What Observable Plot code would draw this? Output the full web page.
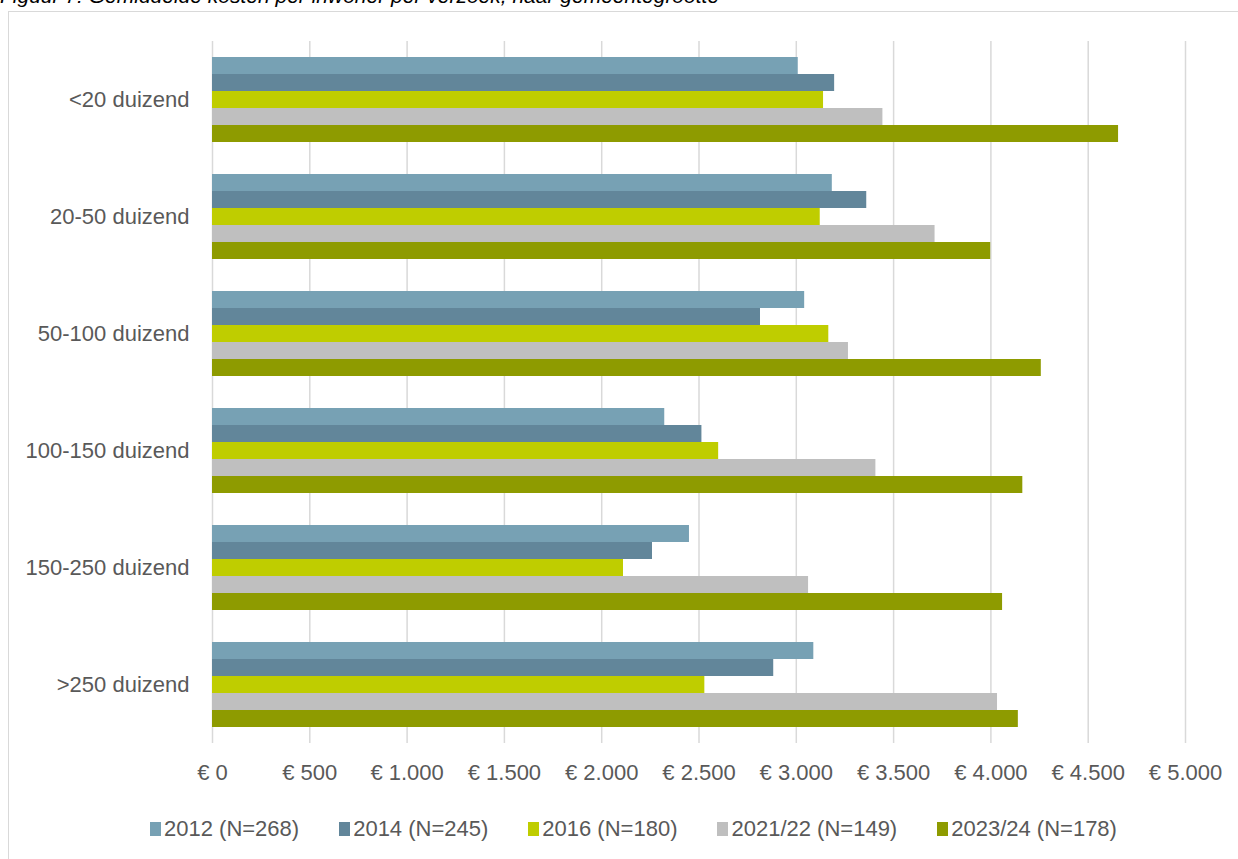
<!DOCTYPE html>
<html>
<head>
<meta charset="utf-8">
<script src="https://cdn.jsdelivr.net/npm/d3@7"></script>
<script src="https://cdn.jsdelivr.net/npm/@observablehq/plot@0.6"></script>
<style>
  html, body { margin: 0; padding: 0; background: #fff; overflow: hidden; }
  #page { position: relative; width: 1238px; height: 859px; overflow: hidden; font-family: "Liberation Sans", Arial, sans-serif; }
  #title { position: absolute; left: 0px; top: -15px; font-size: 21px; line-height: 21px; font-style: italic; color: #000; white-space: nowrap; }
  #frame { position: absolute; left: 8px; top: 11px; width: 1300px; height: 900px; border-left: 1px solid #d9d9d9; border-top: 1px solid #d9d9d9; }
  #chart { position: absolute; left: 0; top: 0; }
  #legend { position: absolute; left: 150px; top: 816px; display: flex; gap: 40px; font-size: 22px; color: #595959; white-space: nowrap; }
  .item { display: flex; align-items: center; }
  .sw { width: 11px; height: 14px; margin-right: 3px; }
</style>
</head>
<body>
<div id="page">
  <div id="title">Figuur 7: Gemiddelde kosten per inwoner per verzoek, naar gemeentegrootte</div>
  <div id="frame"></div>
  <div id="chart"></div>
  <div id="legend"></div>
</div>
<script>
const categories = ["<20 duizend", "20-50 duizend", "50-100 duizend", "100-150 duizend", "150-250 duizend", ">250 duizend"];
const seriesNames = ["2012 (N=268)", "2014 (N=245)", "2016 (N=180)", "2021/22 (N=149)", "2023/24 (N=178)"];
const v2012 = [3010, 3185, 3043, 2324, 2451, 3090];
const v2014 = [3197, 3362, 2816, 2515, 2261, 2884];
const v2016 = [3140, 3123, 3167, 2601, 2112, 2530];
const v2122 = [3445, 3713, 3268, 3409, 3063, 4034];
const v2324 = [4656, 3999, 4259, 4164, 4060, 4141];
const seriesColors = ["#77A1B4", "#62869A", "#BFCD00", "#BFBFBF", "#8E9B00"];
const xTicks = [0, 500, 1000, 1500, 2000, 2500, 3000, 3500, 4000, 4500, 5000];

const valueSets = [v2012, v2014, v2016, v2122, v2324];
const data = [];
categories.forEach((c, i) => {
  seriesNames.forEach((s, j) => {
    data.push({cat: c, series: s, value: valueSets[j][i]});
  });
});

const fmt = d => "€ " + d3.format(",")(d).replace(/,/g, ".");

const chart = Plot.plot({
  width: 1238,
  height: 790,
  marginLeft: 212,
  marginRight: 53,
  marginTop: 39,
  marginBottom: 46,
  style: {fontFamily: "'Liberation Sans', Arial, sans-serif", fontSize: "22px", color: "#595959", background: "transparent"},
  x: {domain: [0, 5000], ticks: xTicks, tickFormat: fmt, tickSize: 0, tickPadding: 21, label: null},
  y: {domain: seriesNames, axis: null, paddingInner: 0, paddingOuter: 0.9},
  fy: {domain: categories, padding: 0, label: null, tickSize: 0, tickPadding: 23},
  color: {domain: seriesNames, range: seriesColors},
  marks: [
    Plot.ruleX(xTicks, {stroke: "#d9d9d9", strokeWidth: 1.5}),
    Plot.barX(data, {x: "value", y: "series", fy: "cat", fill: "series"})
  ]
});
document.getElementById("chart").appendChild(chart);

const legend = document.getElementById("legend");
seriesNames.forEach((s, i) => {
  const it = document.createElement("div");
  it.className = "item";
  const sw = document.createElement("span");
  sw.className = "sw";
  sw.style.background = seriesColors[i];
  const t = document.createElement("span");
  t.textContent = s;
  it.appendChild(sw);
  it.appendChild(t);
  legend.appendChild(it);
});
</script>
</body>
</html>
